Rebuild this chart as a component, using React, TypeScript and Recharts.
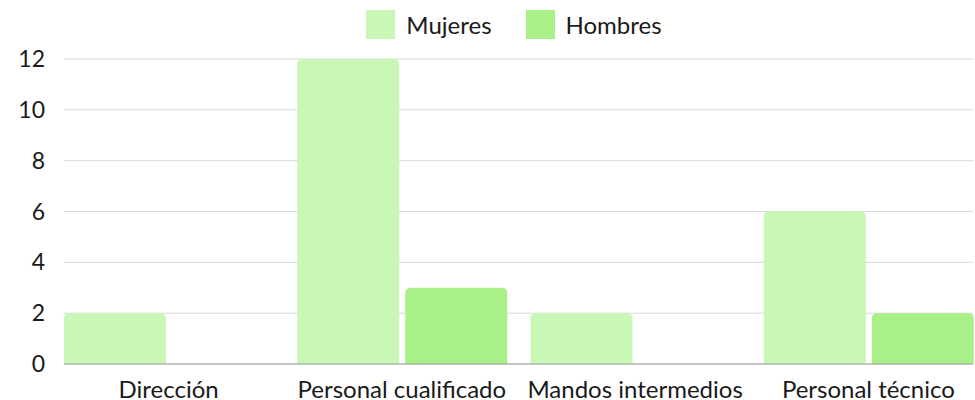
import React from "react";
import { BarChart, Bar, XAxis, YAxis, CartesianGrid } from "recharts";

const categories = ["Dirección", "Personal cualificado", "Mandos intermedios", "Personal técnico"];
const mujeres = [2, 12, 2, 6];
const hombres = [0, 3, 0, 2];
const yTicks = [0, 2, 4, 6, 8, 10, 12];

const series = [
  { key: "mujeres", name: "Mujeres", color: "#c9f7b5" },
  { key: "hombres", name: "Hombres", color: "#a9f088" },
];

const data = categories.map((name, i) => ({
  name,
  mujeres: mujeres[i],
  hombres: hombres[i],
}));

const FONT = "Lato, 'Open Sans', sans-serif";
const TEXT = "#1a1a1a";

export default function App() {
  return (
    <div style={{ position: "relative", width: 975, height: 400, fontFamily: FONT }}>
      <style>{"body{margin:0}"}</style>
      <div
        style={{
          position: "absolute",
          top: 10,
          left: 64,
          width: 900,
          display: "flex",
          justifyContent: "center",
          gap: 34,
        }}
      >
        {series.map((s) => (
          <div key={s.key} style={{ display: "flex", alignItems: "center", gap: 11 }}>
            <span style={{ display: "inline-block", width: 29, height: 29, background: s.color }} />
            <span style={{ fontSize: 24, color: TEXT, lineHeight: "29px" }}>{s.name}</span>
          </div>
        ))}
      </div>
      <BarChart
        width={975}
        height={400}
        data={data}
        margin={{ top: 59, right: 2, bottom: 0, left: 0 }}
        barCategoryGap={12}
        barGap={6}
      >
        <CartesianGrid vertical={false} stroke="#d9d9d9" />
        <XAxis
          dataKey="name"
          padding={{ left: -12, right: -12 }}
          height={36}
          tickLine={false}
          tickSize={0}
          tickMargin={17}
          axisLine={{ stroke: "#9e9e9e" }}
          tick={{ fontSize: 24, fill: TEXT, fontFamily: FONT }}
          interval={0}
        />
        <YAxis
          width={64}
          domain={[0, 12]}
          ticks={yTicks}
          axisLine={false}
          tickLine={false}
          tickSize={0}
          tickMargin={19}
          tick={{ fontSize: 23, fill: TEXT, fontFamily: FONT }}
        />
        {series.map((s) => (
          <Bar
            key={s.key}
            dataKey={s.key}
            name={s.name}
            fill={s.color}
            radius={[5, 5, 0, 0]}
            isAnimationActive={false}
          />
        ))}
      </BarChart>
    </div>
  );
}
